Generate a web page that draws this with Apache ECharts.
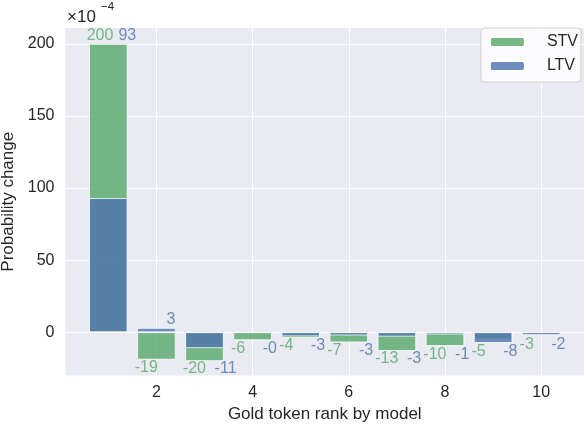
<!DOCTYPE html>
<html>
<head>
<meta charset="utf-8">
<script src="https://cdn.jsdelivr.net/npm/echarts@6/dist/echarts.min.js"></script>
<style>
  html, body { margin: 0; padding: 0; background: #fff; }
  #main { width: 584px; height: 426px; }
</style>
</head>
<body>
<div id="main"></div>
<script>
// data (x10^-4)
var ranks = [1, 2, 3, 4, 5, 6, 7, 8, 9, 10];
var stvBars = [200, -19, -20, -5.5, -4, -7, -13, -9.5, -5, -1.5];
var ltvBars = [93, 3, -11, -0.3, -2.8, -2.2, -3, -1.5, -7.4, -2];
var stvLabels = [200, -19, -20, -6, -4, -7, -13, -10, -5, -3];
var ltvLabels = [93, 3, -11, -0.3, -3, -3, -3, -1, -8, -2];
var xTicks = [2, 4, 6, 8, 10];
var yTicks = [0, 50, 100, 150, 200];

var font = 'Liberation Sans, Arial, sans-serif';
var green = 'rgba(85,168,104,0.8)';
var blue = 'rgba(76,114,176,0.8)';

var myChart = echarts.init(document.getElementById('main'));

function barData(vals) {
    return ranks.map(function (r, i) { return [r, vals[i]]; });
}

// label points: both labels of a rank sit at the outer end of the group
function labelData(vals, dx) {
    return ranks.map(function (r, i) {
        var v = vals[i];
        var pair = [stvLabels[i], ltvLabels[i]];
        var y, pos;
        if (v >= 0) {
            y = Math.max.apply(null, pair.filter(function (p) { return p >= 0; }));
            pos = 'top';
        } else {
            y = Math.min.apply(null, pair.filter(function (p) { return p < 0; }));
            pos = 'bottom';
        }
        return {
            value: [r + dx, y, v.toFixed(0)],
            label: { position: pos }
        };
    });
}

var labelStyle = function (color) {
    return {
        show: true,
        align: 'left',
        distance: 0,
        color: color,
        fontSize: 16,
        fontFamily: font,
        formatter: function (p) { return p.value[2]; }
    };
};

option = {
    backgroundColor: '#fff',
    textStyle: { fontFamily: font },
    grid: {
        left: 65.5, right: 0, top: 28, bottom: 50.5,
        containLabel: false,
        outerBoundsMode: 'none',
        show: true, backgroundColor: '#EAEAF2', borderWidth: 0
    },
    legend: {
        data: ['STV', 'LTV'],
        orient: 'vertical',
        right: 3,
        top: 28,
        itemWidth: 35,
        itemHeight: 10,
        itemGap: 8,
        padding: [6, 3, 8, 8],
        backgroundColor: 'rgba(255,255,255,0.8)',
        borderColor: '#d0d0d0',
        borderWidth: 1,
        borderRadius: 4,
        textStyle: { fontSize: 16, color: '#262626', fontFamily: font, padding: [0, 0, 0, 17] }
    },
    xAxis: {
        type: 'value',
        min: 0.11,
        max: 10.89,
        name: 'Gold token rank by model',
        nameLocation: 'middle',
        nameGap: 30,
        nameTextStyle: { fontSize: 17, color: '#262626', fontFamily: font },
        axisLine: { show: false },
        axisTick: { show: false, customValues: xTicks },
        axisLabel: { customValues: xTicks, fontSize: 16, color: '#262626', margin: 9, fontFamily: font },
        splitLine: { show: true, lineStyle: { color: '#fff', width: 1 } }
    },
    yAxis: {
        type: 'value',
        min: -30,
        max: 211,
        name: 'Probability change',
        nameLocation: 'middle',
        nameGap: 47,
        nameTextStyle: { fontSize: 17, color: '#262626', fontFamily: font },
        axisLine: { show: false },
        axisTick: { show: false, customValues: yTicks },
        axisLabel: { customValues: yTicks, fontSize: 16, color: '#262626', margin: 11, fontFamily: font },
        splitLine: { show: true, lineStyle: { color: '#fff', width: 1 } }
    },
    graphic: [
        { type: 'text', left: 67, top: 9, style: { text: '×10', fontSize: 17, fill: '#262626', fontFamily: font } },
        { type: 'text', left: 101, top: 1, style: { text: '−4', fontSize: 11.5, fill: '#262626', fontFamily: font } }
    ],
    series: [
        {
            name: 'STV', type: 'bar', barWidth: 38.5, barGap: '-100%',
            itemStyle: { color: green, borderColor: '#fff', borderWidth: 0.8 },
            data: barData(stvBars)
        },
        {
            name: 'LTV', type: 'bar', barWidth: 38.5, barGap: '-100%',
            itemStyle: { color: blue, borderColor: '#fff', borderWidth: 0.8 },
            data: barData(ltvBars)
        },
        {
            name: 'stvText', type: 'scatter', symbolSize: 0, silent: true,
            label: labelStyle('#55A868'),
            data: labelData(stvLabels, -0.45)
        },
        {
            name: 'ltvText', type: 'scatter', symbolSize: 0, silent: true,
            label: labelStyle('#4C72B0'),
            data: labelData(ltvLabels, 0.21)
        }
    ]
};

myChart.setOption(option);
</script>
</body>
</html>
